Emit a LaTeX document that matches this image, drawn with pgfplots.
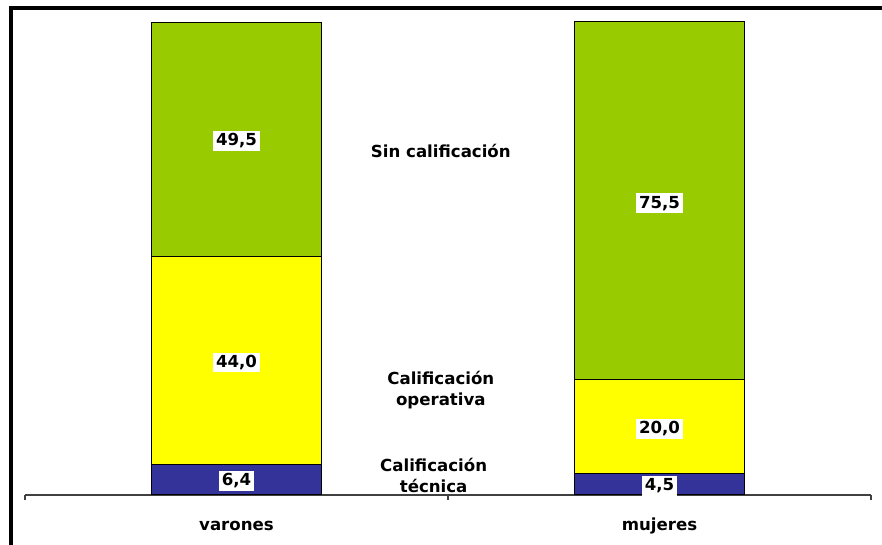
\documentclass[border=0pt]{standalone}
\usepackage{pgfplots}
\pgfplotsset{compat=1.18}
\usepackage{fontspec}
\setmainfont{DejaVu Sans}
\definecolor{cgreen}{HTML}{99CC00}
\definecolor{cyellow}{HTML}{FFFF00}
\definecolor{cblue}{HTML}{333399}
\begin{document}
\begin{tikzpicture}
\useasboundingbox (0,0) rectangle (441pt,272.5pt);
\draw[line width=1.6pt,line cap=rect] (5.5pt,0pt) -- (5.5pt,268.5pt) -- (441pt,268.5pt);
\begin{axis}[
  at={(12.5pt,25pt)}, anchor=south west,
  scale only axis, width=423pt, height=236.5pt,
  ybar stacked, bar shift=0pt, bar width=0.4,
  xmin=0, xmax=2, ymin=0, ymax=100,
  axis x line=bottom, axis y line=none,
  x axis line style={-, black!75, line width=0.6pt},
  xtick={0.5,1.5}, xticklabels={varones,mujeres},
  major x tick style={draw=none},
  minor xtick={0,1,2},
  minor x tick style={black!75, line width=0.6pt},
  minor tick length=2.5pt,
  tick align=outside,
  xticklabel style={font=\fontsize{8.3}{10}\selectfont\bfseries, text height=1.6ex, text depth=0.4ex, yshift=-1pt},
  clip=false,
]
\addplot[fill=cblue, draw=black, line width=0.5pt] coordinates {(0.5,6.4) (1.5,4.5)};
\addplot[fill=cyellow, draw=black, line width=0.5pt] coordinates {(0.5,44.0) (1.5,20.0)};
\addplot[fill=cgreen, draw=black, line width=0.5pt] coordinates {(0.5,49.5) (1.5,75.5)};
\coordinate (v1) at (axis cs:0.5,3.0);
\coordinate (v2) at (axis cs:0.5,28.0);
\coordinate (v3) at (axis cs:0.5,74.9);
\coordinate (m1) at (axis cs:1.5,1.9);
\coordinate (m2) at (axis cs:1.5,14.0);
\coordinate (m3) at (axis cs:1.5,61.7);
\coordinate (s1) at (axis cs:0.983,72.7);
\coordinate (s2) at (axis cs:0.983,22.2);
\coordinate (s3) at (axis cs:0.966,4.1);
\end{axis}
\tikzset{vl/.style={fill=white, inner sep=1.3pt, font=\fontsize{8.3}{10}\selectfont\bfseries}}
\node[vl] at (v1) {6,4};
\node[vl] at (v2) {44,0};
\node[vl] at (v3) {49,5};
\node[vl] at (m1) {4,5};
\node[vl] at (m2) {20,0};
\node[vl] at (m3) {75,5};
\tikzset{sl/.style={align=center, font=\fontsize{8.3}{10.5}\selectfont\bfseries}}
\node[sl] at (s1) {Sin calificación};
\node[sl] at (s2) {Calificación\\operativa};
\node[sl] at (s3) {Calificación\\técnica};
\end{tikzpicture}
\end{document}
